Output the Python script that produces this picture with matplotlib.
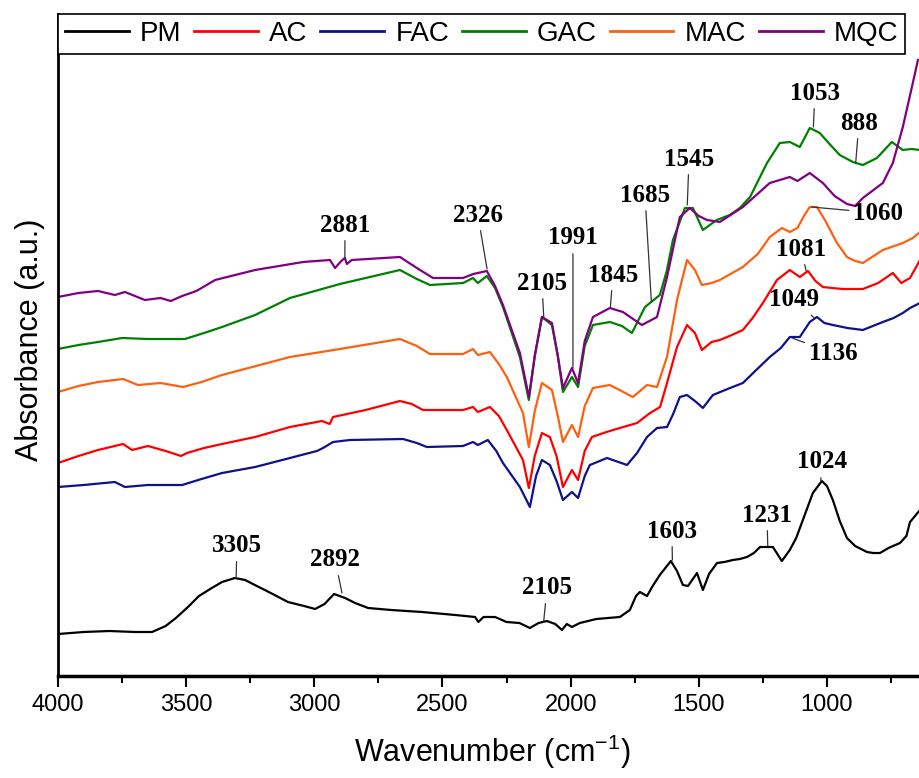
import matplotlib
matplotlib.use("Agg")
import matplotlib.pyplot as plt
from matplotlib.ticker import MultipleLocator

plt.rcParams['font.family'] = ['Liberation Sans', 'DejaVu Sans']
plt.rcParams['mathtext.default'] = 'regular'

# FTIR spectra, wavenumber (cm-1) vs absorbance (a.u., stacked offsets)
wn_pm = [4000, 3900, 3800, 3700, 3633, 3580, 3540, 3493, 3450, 3400, 3360, 3310,
         3270, 3232, 3170, 3103, 3040, 2997, 2960, 2923, 2880, 2841, 2790, 2700,
         2580, 2450, 2373, 2360, 2340, 2295, 2250, 2200, 2159, 2125, 2093, 2060,
         2034, 2015, 1995, 1964, 1900, 1808, 1769, 1745, 1730, 1702, 1680, 1652,
         1609, 1585, 1562, 1542, 1507, 1484, 1460, 1429, 1400, 1367, 1340, 1312,
         1285, 1261, 1211, 1176, 1145, 1120, 1094, 1055, 1020, 1000, 977, 950,
         922, 890, 844, 820, 793, 760, 715, 690, 676, 637]
ab_pm = [0.42, 0.44, 0.45, 0.44, 0.44, 0.50, 0.58, 0.69, 0.80, 0.88, 0.94, 0.98,
         0.96, 0.91, 0.83, 0.74, 0.70, 0.67, 0.72, 0.82, 0.78, 0.73, 0.68, 0.66,
         0.64, 0.61, 0.59, 0.54, 0.59, 0.59, 0.54, 0.53, 0.48, 0.53, 0.55, 0.52,
         0.46, 0.52, 0.49, 0.53, 0.57, 0.59, 0.66, 0.80, 0.84, 0.80, 0.90, 1.01,
         1.15, 1.05, 0.91, 0.90, 1.03, 0.86, 1.02, 1.13, 1.14, 1.16, 1.17, 1.19,
         1.23, 1.29, 1.29, 1.15, 1.26, 1.38, 1.56, 1.83, 1.95, 1.90, 1.76, 1.55,
         1.38, 1.30, 1.24, 1.23, 1.23, 1.28, 1.33, 1.40, 1.54, 1.66]

wn_ac = [4000, 3920, 3844, 3746, 3711, 3649, 3580, 3520, 3497, 3430, 3360, 3231,
         3095, 2970, 2940, 2927, 2800, 2666, 2620, 2576, 2420, 2381, 2362, 2315,
         2280, 2249, 2186, 2163, 2140, 2112, 2081, 2055, 2030, 1995, 1971, 1945,
         1917, 1860, 1808, 1741, 1690, 1651, 1624, 1585, 1546, 1515, 1488, 1450,
         1418, 1380, 1328, 1290, 1250, 1195, 1145, 1106, 1074, 1045, 1016, 980,
         938, 860, 800, 743, 710, 676, 637]
ab_ac = [2.13, 2.20, 2.26, 2.32, 2.26, 2.30, 2.25, 2.20, 2.23, 2.28, 2.32, 2.39,
         2.49, 2.55, 2.52, 2.59, 2.66, 2.75, 2.72, 2.66, 2.66, 2.69, 2.64, 2.69,
         2.60, 2.46, 2.16, 1.88, 2.20, 2.43, 2.39, 2.20, 1.89, 2.06, 1.96, 2.25,
         2.39, 2.44, 2.48, 2.53, 2.63, 2.69, 2.93, 3.29, 3.51, 3.43, 3.26, 3.34,
         3.36, 3.40, 3.46, 3.58, 3.73, 3.96, 4.06, 3.99, 4.05, 3.95, 3.89, 3.88,
         3.87, 3.87, 3.93, 4.03, 3.93, 3.98, 4.16]

wn_fac = [4000, 3900, 3778, 3739, 3650, 3516, 3440, 3360, 3231, 3095, 2990, 2966,
          2927, 2861, 2654, 2600, 2561, 2420, 2381, 2362, 2323, 2290, 2264, 2198,
          2159, 2135, 2112, 2081, 2055, 2030, 1995, 1971, 1945, 1925, 1858, 1780,
          1741, 1702, 1663, 1624, 1600, 1574, 1546, 1515, 1484, 1445, 1378, 1328,
          1280, 1223, 1180, 1145, 1106, 1067, 1039, 1010, 977, 920, 860, 782, 740,
          704, 676, 637]
ab_fac = [1.89, 1.91, 1.94, 1.89, 1.91, 1.91, 1.97, 2.03, 2.09, 2.18, 2.25, 2.28,
          2.34, 2.36, 2.37, 2.33, 2.29, 2.30, 2.34, 2.31, 2.36, 2.25, 2.13, 1.89,
          1.69, 2.00, 2.16, 2.11, 1.95, 1.76, 1.84, 1.78, 2.00, 2.11, 2.18, 2.11,
          2.23, 2.39, 2.48, 2.49, 2.62, 2.79, 2.81, 2.75, 2.68, 2.81, 2.88, 2.93,
          3.05, 3.19, 3.28, 3.39, 3.39, 3.54, 3.59, 3.53, 3.51, 3.48, 3.46, 3.54,
          3.58, 3.63, 3.68, 3.73]

wn_gac = [4000, 3920, 3844, 3750, 3650, 3505, 3430, 3360, 3231, 3095, 2900, 2666,
          2600, 2549, 2420, 2381, 2362, 2327, 2295, 2264, 2198, 2163, 2140, 2112,
          2073, 2050, 2030, 1995, 1971, 1945, 1913, 1847, 1800, 1761, 1710, 1652,
          1625, 1601, 1554, 1523, 1484, 1430, 1379, 1340, 1300, 1234, 1184, 1145,
          1106, 1067, 1028, 990, 950, 899, 860, 805, 747, 704, 670, 637]
ab_gac = [3.27, 3.31, 3.34, 3.38, 3.37, 3.37, 3.43, 3.49, 3.61, 3.78, 3.92, 4.06,
          3.97, 3.91, 3.93, 3.98, 3.93, 4.00, 3.88, 3.69, 3.19, 2.76, 3.20, 3.59,
          3.51, 3.20, 2.84, 2.99, 2.89, 3.30, 3.51, 3.54, 3.50, 3.43, 3.69, 3.81,
          4.05, 4.36, 4.68, 4.68, 4.46, 4.56, 4.61, 4.68, 4.79, 5.13, 5.33, 5.34,
          5.29, 5.48, 5.43, 5.32, 5.21, 5.14, 5.11, 5.18, 5.34, 5.26, 5.27, 5.26]

wn_mac = [4000, 3920, 3844, 3746, 3688, 3600, 3512, 3440, 3360, 3095, 2900, 2666,
          2600, 2549, 2420, 2381, 2362, 2315, 2280, 2249, 2186, 2163, 2140, 2112,
          2073, 2050, 2030, 1995, 1971, 1945, 1913, 1847, 1757, 1702, 1663, 1624,
          1585, 1546, 1515, 1488, 1450, 1418, 1328, 1270, 1223, 1176, 1145, 1115,
          1090, 1067, 1039, 1008, 961, 922, 890, 860, 782, 704, 665, 637]
ab_mac = [2.84, 2.90, 2.94, 2.97, 2.91, 2.93, 2.89, 2.94, 3.01, 3.19, 3.27, 3.37,
          3.30, 3.22, 3.22, 3.27, 3.21, 3.24, 3.12, 2.99, 2.63, 2.29, 2.65, 2.93,
          2.86, 2.60, 2.34, 2.51, 2.39, 2.70, 2.88, 2.91, 2.79, 2.91, 2.89, 3.19,
          3.76, 4.16, 4.06, 3.91, 3.93, 3.96, 4.09, 4.22, 4.39, 4.48, 4.44, 4.48,
          4.60, 4.69, 4.69, 4.56, 4.33, 4.19, 4.15, 4.13, 4.26, 4.33, 4.38, 4.44]

wn_mqc = [4000, 3920, 3844, 3778, 3739, 3700, 3661, 3600, 3560, 3516, 3460, 3387,
          3231, 3044, 2939, 2919, 2895, 2881, 2873, 2854, 2666, 2600, 2537, 2420,
          2380, 2327, 2295, 2264, 2198, 2163, 2140, 2112, 2073, 2050, 2030, 1995,
          1971, 1945, 1913, 1847, 1796, 1722, 1663, 1624, 1574, 1535, 1500, 1468,
          1418, 1328, 1223, 1145, 1115, 1067, 1016, 970, 922, 890, 860, 782, 743,
          704, 665, 645]
ab_mqc = [3.79, 3.83, 3.85, 3.81, 3.84, 3.80, 3.76, 3.78, 3.75, 3.80, 3.85, 3.96,
          4.06, 4.14, 4.16, 4.08, 4.15, 4.18, 4.12, 4.16, 4.19, 4.08, 3.98, 3.98,
          4.02, 4.05, 3.90, 3.71, 3.23, 2.79, 3.20, 3.59, 3.53, 3.20, 2.88, 3.08,
          2.93, 3.35, 3.59, 3.68, 3.64, 3.51, 3.59, 3.99, 4.59, 4.68, 4.60, 4.56,
          4.54, 4.69, 4.93, 4.99, 4.95, 5.03, 4.93, 4.80, 4.72, 4.70, 4.78, 4.93,
          5.13, 5.49, 5.93, 6.16]

series = [
    ("PM", wn_pm, ab_pm, "black"),
    ("AC", wn_ac, ab_ac, "#ff0000"),
    ("FAC", wn_fac, ab_fac, "#10108c"),
    ("GAC", wn_gac, ab_gac, "#008000"),
    ("MAC", wn_mac, ab_mac, "#ff6010"),
    ("MQC", wn_mqc, ab_mqc, "#800080"),
]

# peak labels: text, peak wavenumber, absorbance at peak, label x, label y
peak_labels = [
    ("2881", 2881, 4.18, 2880, 4.51),
    ("2326", 2326, 4.07, 2362, 4.61),
    ("2105", 2105, 3.59, 2112, 3.93),
    ("1991", 1991, 3.08, 1991, 4.38),
    ("1845", 1845, 3.69, 1835, 4.01),
    ("1685", 1685, 3.74, 1710, 4.81),
    ("1545", 1545, 4.71, 1538, 5.17),
    ("1053", 1053, 5.49, 1047, 5.83),
    ("888", 888, 5.13, 875, 5.53),
    ("1060", 1060, 4.69, 801, 4.63),
    ("1081", 1081, 4.05, 1101, 4.27),
    ("1049", 1049, 3.58, 1129, 3.76),
    ("1136", 1136, 3.38, 977, 3.23),
    ("3305", 3305, 0.98, 3302, 1.30),
    ("2892", 2892, 0.83, 2919, 1.16),
    ("2105", 2105, 0.55, 2092, 0.88),
    ("1603", 1603, 1.16, 1605, 1.45),
    ("1231", 1231, 1.30, 1234, 1.61),
    ("1024", 1024, 1.95, 1020, 2.14),
]

fig = plt.figure(figsize=(9.2, 7.78), dpi=100)
ax = fig.add_axes([58 / 920, 1 - 676 / 778, 1 - 58 / 920, 662 / 778])

for name, wn, ab, col in series:
    ax.plot(wn, ab, color=col, lw=1.6, label=name)

for txt, px, py, tx, ty in peak_labels:
    ax.annotate(txt, xy=(px, py), xytext=(tx, ty), ha='center', va='center',
                fontsize=18, fontweight='bold', family='Liberation Serif',
                arrowprops=dict(arrowstyle='-', color='0.2', lw=0.9,
                                shrinkA=1, shrinkB=0))

ax.set_xlim(4000, 637)
ax.set_ylim(0, 6.62)
ax.set_xticks([4000, 3500, 3000, 2500, 2000, 1500, 1000])
ax.xaxis.set_minor_locator(MultipleLocator(250))
ax.set_yticks([])
ax.tick_params(axis='x', which='major', direction='out', length=8, width=1.5,
               labelsize=17, pad=5)
ax.tick_params(axis='x', which='minor', direction='out', length=5, width=1.5)
ax.spines['top'].set_visible(False)
ax.spines['right'].set_visible(False)
ax.spines['left'].set_linewidth(2)
ax.spines['bottom'].set_linewidth(2.5)

leg = ax.legend(loc='upper left', bbox_to_anchor=(0, 1, 0.983, 0), mode='expand',
                ncol=6, fontsize=20, handlelength=2.3, handletextpad=0.4,
                borderpad=0.25, borderaxespad=0, fancybox=False, framealpha=1,
                edgecolor='black')
leg.get_frame().set_linewidth(1.2)
for line in leg.get_lines():
    line.set_linewidth(2)

fig.text(30 / 920, 1 - 340 / 778, "Absorbance (a.u.)", rotation=90,
         ha='center', va='center', fontsize=22)
fig.text(492 / 920, 1 - 752 / 778, "Wavenumber (cm$^{-1}$)",
         ha='center', va='center', fontsize=22)

fig.savefig("out.png", dpi=100, facecolor='white')
